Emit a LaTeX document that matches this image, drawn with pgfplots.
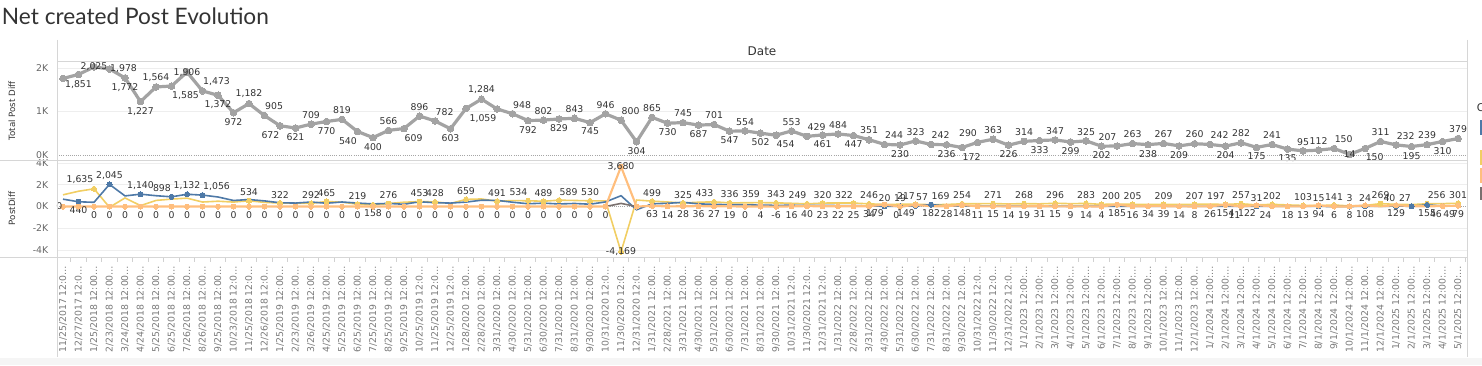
\documentclass[border=0pt]{standalone}
\usepackage{pgfplots}
\pgfplotsset{compat=1.18}
\usepackage{pgfplotstable}
\usepackage{fontspec}
\setmainfont{DejaVu Sans}
\newfontfamily\titlefont{Lato}
\definecolor{tblue}{HTML}{4E79A7}
\definecolor{tyellow}{HTML}{F1CE63}
\definecolor{torange}{HTML}{FFBE7D}
\definecolor{tgrey}{HTML}{79706E}
\definecolor{linegrey}{HTML}{A3A3A3}
\definecolor{sepc}{HTML}{D6D6D6}
\definecolor{gridc}{HTML}{EEEEEE}
\definecolor{ticklab}{HTML}{666666}
\definecolor{xlab}{HTML}{7A7A7A}
\definecolor{lab}{HTML}{333333}
\def\splitmeta#1:#2\relax{\def\myanc{#1}\def\mylbl{#2}}

% column m = anchor:label
\pgfplotstableread{
x y m
0 1760 south:
1 1851 north:1,851
2 2025 center:2,025
3 1978 west:1,978
4 1772 north:1,772
5 1227 north:1,227
6 1564 south:1,564
7 1585 {north west:1,585}
8 1906 center:1,906
9 1473 {south west:1,473}
10 1372 north:1,372
11 972 north:972
12 1182 south:1,182
13 905 {south west:905}
14 672 {north east:672}
15 621 north:621
16 709 south:709
17 770 north:770
18 819 south:819
19 540 {north east:540}
20 400 north:400
21 566 south:566
22 609 {north west:609}
23 896 south:896
24 782 {south west:782}
25 603 north:603
26 1070 south:
27 1284 south:1,284
28 1059 {north east:1,059}
29 948 {south west:948}
30 792 north:792
31 802 south:802
32 829 north:829
33 843 south:843
34 745 north:745
35 946 south:946
36 800 {south west:800}
37 304 north:304
38 865 south:865
39 730 north:730
40 745 south:745
41 687 north:687
42 701 south:701
43 547 north:547
44 554 south:554
45 502 north:502
46 454 {north west:454}
47 553 south:553
48 429 {south west:429}
49 461 north:461
50 484 south:484
51 447 north:447
52 351 south:351
53 244 {south west:244}
54 230 north:230
55 323 south:323
56 242 {south west:242}
57 236 north:236
58 172 {north west:172}
59 290 {south east:290}
60 363 south:363
61 226 north:226
62 314 south:314
63 333 north:333
64 347 south:347
65 299 north:299
66 325 south:325
67 202 north:202
68 207 {south east:207}
69 263 south:263
70 238 north:238
71 267 south:267
72 209 north:209
73 260 south:260
74 242 {south west:242}
75 204 north:204
76 282 south:282
77 175 north:175
78 241 south:241
79 135 north:135
80 95 south:95
81 112 south:112
82 150 {south west:150}
83 14 center:14
84 150 {north west:150}
85 311 south:311
86 232 {south west:232}
87 195 north:195
88 239 south:239
89 310 north:310
90 379 south:379
}\totaltab

\pgfplotstableread{
x y my m
0 1080 nan south:
1 1411 nan south:
2 1635 1635 {south east:1,635}
3 -67 nan south:
4 792 nan south:
5 87 nan south:
6 564 nan south:
7 687 nan south:
8 774 nan south:
9 417 nan south:
10 492 nan south:
11 412 nan south:
12 534 534 south:534
13 385 nan south:
14 322 322 south:322
15 300 nan south:
16 292 292 south:292
17 465 465 south:465
18 399 nan south:
19 219 219 south:219
20 158 158 north:158
21 276 276 south:276
22 400 nan south:
23 453 453 south:453
24 428 428 south:428
25 283 nan south:
26 659 659 south:659
27 700 nan south:
28 491 491 south:491
29 548 nan south:
30 534 534 {south east:534}
31 489 489 south:489
32 589 589 {south west:589}
33 560 nan south:
34 530 530 south:530
35 520 nan south:
36 -4169 -4169 center:-4,169
37 600 nan south:
38 499 499 south:499
39 420 nan south:
40 325 325 south:325
41 400 nan south:
42 433 433 {south east:433}
43 336 336 south:336
44 350 nan south:
45 359 359 {south east:359}
46 343 343 south:343
47 300 nan south:
48 249 249 {south east:249}
49 320 320 south:320
50 330 nan south:
51 322 322 {south east:322}
52 246 246 south:246
53 200 nan south:
54 210 nan south:
55 217 217 {south east:217}
56 169 169 {south west:169}
57 190 nan south:
58 254 254 south:254
59 260 nan south:
60 271 271 south:271
61 240 nan south:
62 268 268 south:268
63 250 nan south:
64 296 296 south:296
65 270 nan south:
66 283 283 south:283
67 200 200 {south west:200}
68 230 nan south:
69 205 205 south:205
70 200 nan south:
71 209 209 south:209
72 190 nan south:
73 207 207 south:207
74 220 nan south:
75 197 197 {south east:197}
76 257 257 south:257
77 150 nan south:
78 202 202 south:202
79 150 nan south:
80 103 103 south:103
81 90 nan south:
82 141 141 south:141
83 60 nan south:
84 100 nan south:
85 269 269 south:269
86 200 nan south:
87 180 nan south:
88 256 256 {south west:256}
89 270 nan south:
90 301 301 south:301
}\yeltab

\pgfplotstableread{
x y my m
0 680 nan south:
1 440 440 north:440
2 390 nan south:
3 2045 2045 south:2,045
4 980 nan south:
5 1140 1140 south:1,140
6 1000 nan south:
7 898 898 {south east:898}
8 1132 1132 south:1,132
9 1056 1056 {south west:1,056}
10 880 nan south:
11 560 nan south:
12 648 nan south:
13 520 nan south:
14 350 nan south:
15 321 nan south:
16 417 nan south:
17 305 nan south:
18 420 nan south:
19 321 nan south:
20 242 nan south:
21 290 nan south:
22 209 nan south:
23 443 nan south:
24 354 nan south:
25 320 nan south:
26 411 nan south:
27 584 nan south:
28 568 nan south:
29 400 nan south:
30 258 nan south:
31 313 nan south:
32 240 nan south:
33 283 nan south:
34 215 nan south:
35 426 nan south:
36 1000 nan south:
37 -296 nan south:
38 250 nan south:
39 300 nan south:
40 390 nan south:
41 250 nan south:
42 200 nan south:
43 170 nan south:
44 160 nan south:
45 130 nan south:
46 110 nan south:
47 120 nan south:
48 100 nan south:
49 100 nan south:
50 90 nan south:
51 80 nan south:
52 60 nan south:
53 20 20 south:20
54 19 19 south:19
55 57 57 {south west:57}
56 182 182 north:182
57 50 nan south:
58 40 nan south:
59 40 nan south:
60 35 nan south:
61 30 nan south:
62 30 nan south:
63 30 nan south:
64 28 nan south:
65 25 nan south:
66 25 nan south:
67 25 nan south:
68 25 nan south:
69 22 nan south:
70 20 nan south:
71 20 nan south:
72 20 nan south:
73 20 nan south:
74 20 nan south:
75 18 nan south:
76 18 nan south:
77 31 31 south:31
78 20 nan south:
79 15 nan south:
80 10 nan south:
81 15 15 south:15
82 3 nan south:
83 3 3 south:3
84 24 24 south:24
85 20 nan south:
86 40 40 {south east:40}
87 27 27 {south east:27}
88 155 155 north:155
89 49 49 {north west:49}
90 30 nan south:
}\blutab

\pgfplotstableread{
x y my m
0 0 0 east:0
1 0 0 south:
2 0 0 north:0
3 0 0 north:0
4 0 0 north:0
5 0 0 north:0
6 0 0 north:0
7 0 0 north:0
8 0 0 north:0
9 0 0 north:0
10 0 0 north:0
11 0 0 north:0
12 0 0 north:0
13 0 0 north:0
14 0 0 north:0
15 0 0 north:0
16 0 0 north:0
17 0 0 north:0
18 0 0 north:0
19 0 0 north:0
20 0 0 south:
21 0 0 north:0
22 0 0 north:0
23 0 0 north:0
24 0 0 north:0
25 0 0 north:0
26 0 0 north:0
27 0 0 north:0
28 0 0 north:0
29 0 0 north:0
30 0 0 north:0
31 0 0 north:0
32 0 0 north:0
33 0 0 north:0
34 0 0 north:0
35 0 0 north:0
36 3680 3680 center:3,680
37 0 0 south:
38 63 63 north:63
39 14 14 north:14
40 28 28 north:28
41 36 36 north:36
42 27 27 north:27
43 19 19 north:19
44 0 0 north:0
45 4 4 north:4
46 -6 -6 north:-6
47 16 16 north:16
48 40 40 north:40
49 23 23 north:23
50 22 22 north:22
51 25 25 north:25
52 34 34 north:34
53 179 179 {north east:179}
54 0 0 {north east:0}
55 149 149 {north east:149}
56 30 nan south:
57 28 28 north:28
58 148 148 north:148
59 11 11 north:11
60 15 15 north:15
61 14 14 north:14
62 19 19 north:19
63 31 31 north:31
64 15 15 north:15
65 9 9 north:9
66 14 14 north:14
67 4 4 north:4
68 185 185 north:185
69 16 16 north:16
70 34 34 north:34
71 39 39 north:39
72 14 14 north:14
73 8 8 north:8
74 26 26 north:26
75 154 154 north:154
76 11 11 {north east:11}
77 122 122 {north east:122}
78 24 24 {north east:24}
79 18 18 north:18
80 13 13 north:13
81 94 94 north:94
82 6 6 north:6
83 8 8 north:8
84 108 108 north:108
85 20 nan south:
86 129 129 north:129
87 30 nan south:
88 20 nan south:
89 46 46 {north east:46}
90 79 79 north:79
}\oratab

\tikzset{lblfont/.style={font=\fontsize{7}{8}\selectfont, text=lab, inner xsep=0.5pt, inner ysep=3.6pt}}
\pgfplotsset{
  metalabels/.style={nodes near coords={\mylbl}, point meta=explicit symbolic,
    every node near coord/.append style={/utils/exec={\expandafter\splitmeta\pgfplotspointmeta\relax}, lblfont, anchor=\myanc}},
  lblplot/.style={only marks, mark=*, mark size=1.9pt, color=#1,
    mark options={fill=#1, draw=#1, line width=0pt}, metalabels},
}

\begin{document}
\begin{tikzpicture}
% title and header
\node[anchor=base west, inner sep=0pt, font=\titlefont\fontsize{17}{20}\selectfont, text=lab] at (1.3pt,255.2pt) {Net created Post Evolution};
\node[font=\fontsize{9}{10}\selectfont, text=lab] at (571.5pt,235.5pt) {Date};
\fill[black!4] (0pt,0pt) rectangle (1111.5pt,5.25pt);

% top pane
\begin{axis}[
  at={(42.75pt,153.75pt)}, anchor=south west,
  width=1057.5pt, height=73.5pt, scale only axis,
  xmin=-0.387, xmax=90.58, ymin=-115, ymax=2138,
  axis line style={draw=none},
  xtick=\empty,
  ytick={1000,2000}, yticklabels={1K,2K},
  extra y ticks={0}, extra y tick labels={0K},
  extra y tick style={grid=major, major grid style={densely dotted, black!35, line width=0.6pt}},
  ymajorgrids, major grid style={gridc, line width=0.6pt},
  major tick length=0pt,
  yticklabel style={font=\fontsize{7}{8}\selectfont, text=ticklab, xshift=-3pt},
  ylabel={Total Post Diff},
  ylabel style={at={(axis description cs:-0.0319,0.5)}, anchor=center, font=\fontsize{6.5}{8}\selectfont, text=lab},
  clip=false,
]
\addplot[linegrey, line width=2.4pt, mark=*, mark size=2.5pt,
  mark options={fill=linegrey, draw=linegrey, line width=0pt},
  metalabels, every node near coord/.append style={inner ysep=4.2pt}]
  table[x=x, y=y, meta=m]{\totaltab};
\end{axis}

% bottom pane
\begin{axis}[
  at={(42.75pt,81pt)}, anchor=south west,
  width=1057.5pt, height=72.75pt, scale only axis,
  xmin=-0.387, xmax=90.58, ymin=-4650, ymax=4290,
  axis line style={draw=none},
  xtick={0,...,90},
  xticklabels={11/25/2017 12:0…,12/27/2017 12:0…,1/25/2018 12:00…,2/23/2018 12:00…,3/24/2018 12:00…,4/24/2018 12:00…,5/25/2018 12:00…,6/25/2018 12:00…,7/26/2018 12:00…,8/26/2018 12:00…,9/25/2018 12:00…,10/23/2018 12:0…,11/25/2018 12:0…,12/26/2018 12:0…,1/25/2019 12:00…,2/23/2019 12:00…,3/26/2019 12:00…,4/25/2019 12:00…,5/25/2019 12:00…,6/25/2019 12:00…,7/25/2019 12:00…,8/25/2019 12:00…,9/25/2019 12:00…,10/25/2019 12:0…,11/25/2019 12:0…,12/25/2019 12:0…,1/28/2020 12:00…,2/28/2020 12:00…,3/31/2020 12:00…,4/30/2020 12:00…,5/31/2020 12:00…,6/30/2020 12:00…,7/31/2020 12:00…,8/31/2020 12:00…,9/30/2020 12:00…,10/31/2020 12:0…,11/30/2020 12:0…,12/31/2020 12:0…,1/31/2021 12:00…,2/28/2021 12:00…,3/31/2021 12:00…,4/30/2021 12:00…,5/31/2021 12:00…,6/30/2021 12:00…,7/31/2021 12:00…,8/31/2021 12:00…,9/30/2021 12:00…,10/31/2021 12:0…,11/30/2021 12:0…,12/31/2021 12:0…,1/31/2022 12:00…,2/28/2022 12:00…,3/31/2022 12:00…,4/30/2022 12:00…,5/31/2022 12:00…,6/30/2022 12:00…,7/31/2022 12:00…,8/31/2022 12:00…,9/30/2022 12:00…,10/31/2022 12:0…,11/30/2022 12:0…,12/31/2022 12:0…,1/1/2023 12:00:…,2/1/2023 12:00:…,3/1/2023 12:00:…,4/1/2023 12:00:…,5/1/2023 12:00:…,6/1/2023 12:00:…,7/1/2023 12:00:…,8/1/2023 12:00:…,9/1/2023 12:00:…,10/1/2023 12:00…,11/1/2023 12:00…,12/1/2023 12:00…,1/1/2024 12:00:…,2/1/2024 12:00:…,3/1/2024 12:00:…,4/1/2024 12:00:…,5/1/2024 12:00:…,6/1/2024 12:00:…,7/1/2024 12:00:…,8/1/2024 12:00:…,9/1/2024 12:00:…,10/1/2024 12:00…,11/1/2024 12:00…,12/1/2024 12:00…,1/1/2025 12:00:…,2/1/2025 12:00:…,3/1/2025 12:00:…,4/1/2025 12:00:…,5/1/2025 12:00:…},
  xticklabel style={rotate=90, anchor=east, font=\fontsize{7}{8}\selectfont, text=xlab},
  xticklabel shift=3pt,
  minor xtick={0.5,1.5,...,90.5},
  xtick pos=left, ytick pos=left,
  tick align=outside,
  major tick length=0pt, minor tick length=3.5pt,
  minor tick style={draw=black!18, line width=0.6pt},
  ytick={-4000,-2000,2000,4000}, yticklabels={-4K,-2K,2K,4K},
  extra y ticks={0}, extra y tick labels={0K},
  extra y tick style={grid=major, major grid style={densely dotted, black!35, line width=0.6pt}},
  ymajorgrids, major grid style={gridc, line width=0.6pt},
  yticklabel style={font=\fontsize{7}{8}\selectfont, text=ticklab, xshift=-3pt},
  ylabel={PostDiff},
  ylabel style={at={(axis description cs:-0.0319,0.5)}, anchor=center, font=\fontsize{6.5}{8}\selectfont, text=lab},
  clip=false,
]
\addplot[tyellow, line width=1.2pt, mark=none] table[x=x, y=y]{\yeltab};
\addplot[tblue, line width=1.2pt, mark=none] table[x=x, y=y]{\blutab};
\addplot[tgrey, line width=1.2pt, mark=none] coordinates {(35,0) (36,289) (37,0)};
\addplot[torange, line width=1.6pt, mark=none] table[x=x, y=y]{\oratab};
\addplot[lblplot=tyellow] table[x=x, y=my, meta=m]{\yeltab};
\addplot[lblplot=tblue] table[x=x, y=my, meta=m]{\blutab};
\addplot[lblplot=torange] table[x=x, y=my, meta=m]{\oratab};
\end{axis}

% pane borders
\draw[sepc, line width=0.75pt] (42.75pt,227.25pt) -- (1100.25pt,227.25pt);
\draw[sepc, line width=0.75pt] (0pt,153.75pt) -- (1100.25pt,153.75pt);
\draw[sepc, line width=0.75pt] (0pt,81pt) -- (1100.25pt,81pt);
\draw[sepc, line width=0.75pt] (42.75pt,243.75pt) -- (42.75pt,6pt);
\draw[sepc, line width=0.75pt] (1100.25pt,243.75pt) -- (1100.25pt,6pt);

% legend (cut off at the right edge)
\node[anchor=west, inner sep=0pt, font=\fontsize{8}{9}\selectfont, text=lab] at (1107.5pt,192.75pt) {C};
\fill[tblue] (1110pt,172.5pt) rectangle (1112.5pt,183.75pt);
\fill[tyellow] (1110pt,150pt) rectangle (1112.5pt,161.25pt);
\fill[torange] (1110pt,136.5pt) rectangle (1112.5pt,147.75pt);
\fill[tgrey] (1110pt,123.75pt) rectangle (1112.5pt,133.5pt);

\pgfresetboundingbox
\useasboundingbox (0pt,0pt) rectangle (1111.5pt,273.75pt);
\end{tikzpicture}
\end{document}
